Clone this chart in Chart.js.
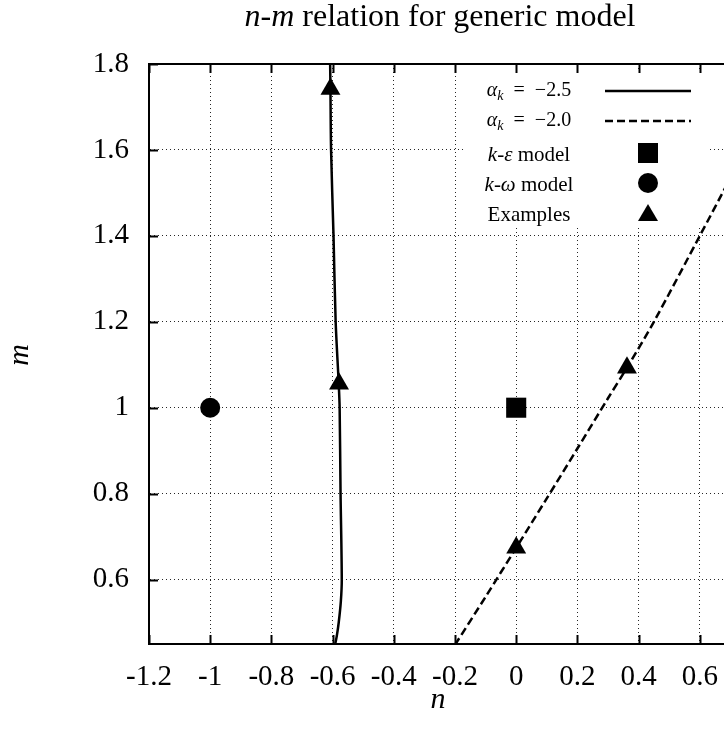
<!DOCTYPE html>
<html>
<head>
<meta charset="utf-8">
<script src="https://cdn.jsdelivr.net/npm/chart.js@4.4.1/dist/chart.umd.min.js"></script>
<style>
  html, body { margin: 0; padding: 0; background: #fff; overflow: hidden; }
  #wrap { width: 724px; height: 733px; overflow: hidden; }
</style>
</head>
<body>
<div id="wrap"><canvas id="chart" width="800" height="733"></canvas></div>
<script>
// alpha_k = -2.5 curve, sampled along m from top to bottom
const solidM = [1.80, 1.74, 1.60, 1.40, 1.20, 1.056, 1.00, 0.80, 0.60, 0.55, 0.50, 0.47, 0.448, 0.43];
const solidN = [-0.608, -0.607, -0.605, -0.597, -0.590, -0.580, -0.577, -0.574, -0.570, -0.573, -0.580, -0.586, -0.592, -0.598];

// alpha_k = -2.0 curve
const dashN = [-0.2, -0.1, 0, 0.1, 0.2, 0.3, 0.362, 0.45, 0.6, 0.7, 0.8];
const dashM = [0.448, 0.560, 0.674, 0.789, 0.905, 1.022, 1.093, 1.200, 1.40, 1.535, 1.675];

// single models
const kEps = { n: 0, m: 1 };
const kOmega = { n: -1, m: 1 };

// example points
const exN = [-0.607, -0.579, 0, 0.362];
const exM = [1.742, 1.056, 0.674, 1.093];

const xTicks = [-1.2, -1.0, -0.8, -0.6, -0.4, -0.2, 0, 0.2, 0.4, 0.6, 0.8];
const yTicks = [0.6, 0.8, 1.0, 1.2, 1.4, 1.6, 1.8];

const serif = '"Liberation Serif", "Times New Roman", serif';
const pts = (xs, ys) => xs.map((x, i) => ({ x: x, y: ys[i] }));
const fmt = (v) => String(Math.round(v * 10) / 10);

// draws a row of text pieces (some italic / subscript) centred on cx
function drawRuns(ctx, runs, cx, y, size) {
  let total = 0;
  const parts = runs.map((r) => {
    const fs = r.sub ? size * 0.7 : size;
    const font = (r.it ? 'italic ' : '') + fs + 'px ' + serif;
    ctx.font = font;
    const w = ctx.measureText(r.t).width;
    total += w;
    return { t: r.t, sub: r.sub, font: font, w: w };
  });
  let x = cx - total / 2;
  ctx.textAlign = 'left';
  ctx.textBaseline = 'alphabetic';
  parts.forEach((p) => {
    ctx.font = p.font;
    ctx.fillText(p.t, x, y + (p.sub ? size * 0.22 : 0));
    x += p.w;
  });
}

function marker(ctx, style, x, y) {
  ctx.beginPath();
  if (style === 'rect') {
    ctx.rect(x - 10, y - 10, 20, 20);
  } else if (style === 'circle') {
    ctx.arc(x, y, 10, 0, Math.PI * 2);
  } else {
    ctx.moveTo(x, y - 11);
    ctx.lineTo(x + 10, y + 6);
    ctx.lineTo(x - 10, y + 6);
    ctx.closePath();
  }
  ctx.fill();
}

const decorations = {
  id: 'decorations',
  beforeDatasetsDraw(chart) {
    // opaque key box
    const ctx = chart.ctx;
    ctx.save();
    ctx.fillStyle = '#fff';
    ctx.fillRect(465, 72, 243, 156);
    ctx.restore();
  },
  afterDatasetsDraw(chart) {
    const ctx = chart.ctx;
    const { left, right, top, bottom } = chart.chartArea;
    const xs = chart.scales.x;
    const ys = chart.scales.y;
    ctx.save();

    // inward tick marks and top border
    ctx.strokeStyle = '#000';
    ctx.lineWidth = 2;
    ctx.beginPath();
    xTicks.forEach((v) => {
      const px = Math.round(xs.getPixelForValue(v)) + 0.5;
      ctx.moveTo(px, bottom); ctx.lineTo(px, bottom - 9);
      ctx.moveTo(px, top); ctx.lineTo(px, top + 9);
    });
    yTicks.forEach((v) => {
      const py = Math.round(ys.getPixelForValue(v)) + 0.5;
      ctx.moveTo(left, py); ctx.lineTo(left + 9, py);
      ctx.moveTo(right, py); ctx.lineTo(right - 9, py);
    });
    ctx.moveTo(left, top); ctx.lineTo(right, top);
    ctx.moveTo(right, top); ctx.lineTo(right, bottom);
    ctx.stroke();

    // key
    ctx.fillStyle = '#000';
    const cx = 529;
    drawRuns(ctx, [{ t: '\u03b1', it: true }, { t: 'k', it: true, sub: true }, { t: '  =  \u22122.5' }], cx, 96, 20);
    drawRuns(ctx, [{ t: '\u03b1', it: true }, { t: 'k', it: true, sub: true }, { t: '  =  \u22122.0' }], cx, 126, 20);
    drawRuns(ctx, [{ t: 'k', it: true }, { t: '-' }, { t: '\u03b5', it: true }, { t: ' model' }], cx, 161, 21);
    drawRuns(ctx, [{ t: 'k', it: true }, { t: '-' }, { t: '\u03c9', it: true }, { t: ' model' }], cx, 191, 21);
    drawRuns(ctx, [{ t: 'Examples' }], cx, 221, 21);

    ctx.lineWidth = 2.5;
    ctx.beginPath();
    ctx.moveTo(605, 91); ctx.lineTo(691, 91);
    ctx.stroke();
    ctx.setLineDash([8, 4]);
    ctx.beginPath();
    ctx.moveTo(605, 121); ctx.lineTo(691, 121);
    ctx.stroke();
    ctx.setLineDash([]);
    marker(ctx, 'rect', 648, 153);
    marker(ctx, 'circle', 648, 183);
    marker(ctx, 'triangle', 648, 215);

    // title and axis titles
    drawRuns(ctx, [{ t: 'n', it: true }, { t: '-' }, { t: 'm', it: true }, { t: ' relation for generic model' }], 440, 26, 32);
    drawRuns(ctx, [{ t: 'n', it: true }], 438, 708, 30);
    ctx.translate(28, 355);
    ctx.rotate(-Math.PI / 2);
    drawRuns(ctx, [{ t: 'm', it: true }], 0, 0, 30);
    ctx.restore();
  }
};

new Chart(document.getElementById('chart'), {
  type: 'scatter',
  data: {
    datasets: [
      {
        label: '\u03b1k = -2.5',
        data: pts(solidN, solidM),
        showLine: true,
        borderColor: '#000',
        borderWidth: 2.5,
        pointRadius: 0,
        tension: 0.3
      },
      {
        label: '\u03b1k = -2.0',
        data: pts(dashN, dashM),
        showLine: true,
        borderColor: '#000',
        borderWidth: 2.5,
        borderDash: [8, 4],
        pointRadius: 0,
        tension: 0.3
      },
      {
        label: 'k-\u03b5 model',
        data: [{ x: kEps.n, y: kEps.m }],
        pointStyle: 'rect',
        pointRadius: 14.2,
        backgroundColor: '#000',
        borderColor: '#000',
        borderWidth: 0
      },
      {
        label: 'k-\u03c9 model',
        data: [{ x: kOmega.n, y: kOmega.m }],
        pointStyle: 'circle',
        pointRadius: 10,
        backgroundColor: '#000',
        borderColor: '#000',
        borderWidth: 0
      },
      {
        label: 'Examples',
        data: pts(exN, exM),
        pointStyle: 'triangle',
        pointRadius: 11.5,
        backgroundColor: '#000',
        borderColor: '#000',
        borderWidth: 0
      }
    ]
  },
  options: {
    responsive: false,
    animation: false,
    layout: { padding: { top: 64, right: 39, left: 0, bottom: 0 } },
    plugins: { legend: { display: false }, tooltip: { enabled: false } },
    scales: {
      x: {
        type: 'linear',
        min: -1.2,
        max: 0.8,
        afterBuildTicks: (axis) => { axis.ticks = xTicks.map((v) => ({ value: v })); },
        afterFit: (axis) => { axis.height = 89; },
        ticks: {
          callback: fmt,
          color: '#000',
          font: { family: serif, size: 29 },
          padding: 16,
          maxRotation: 0,
          autoSkip: false
        },
        grid: { color: 'rgba(0,0,0,0.85)', lineWidth: 1, drawTicks: false },
        border: { display: true, color: '#000', width: 2, dash: [1, 3] }
      },
      y: {
        type: 'linear',
        min: 0.45,
        max: 1.8,
        afterBuildTicks: (axis) => { axis.ticks = yTicks.map((v) => ({ value: v })); },
        afterFit: (axis) => { axis.width = 149; },
        ticks: {
          callback: fmt,
          color: '#000',
          font: { family: serif, size: 29 },
          padding: 20,
          autoSkip: false
        },
        grid: { color: 'rgba(0,0,0,0.85)', lineWidth: 1, drawTicks: false },
        border: { display: true, color: '#000', width: 2, dash: [1, 3] }
      }
    }
  },
  plugins: [decorations]
});
</script>
</body>
</html>
